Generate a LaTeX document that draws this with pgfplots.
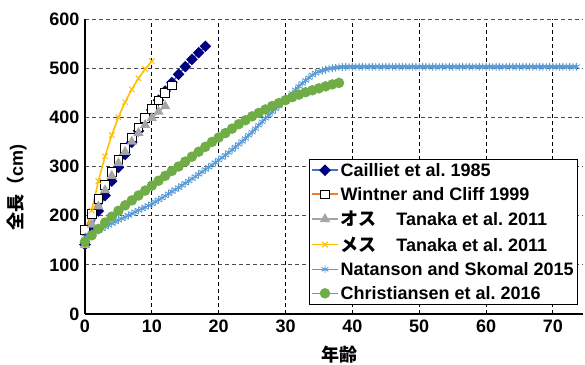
\documentclass[border=0pt]{standalone}
\usepackage{fontspec}
\setmainfont{Liberation Sans}
\newfontfamily\cjk{Noto Sans CJK JP}
\usepackage{pgfplots}
\pgfplotsset{compat=1.18}
\definecolor{cNavy}{RGB}{0,0,128}
\definecolor{cBlue}{RGB}{68,114,196}
\definecolor{cOrange}{RGB}{237,125,49}
\definecolor{cGray}{RGB}{165,165,165}
\definecolor{cYellow}{RGB}{255,192,0}
\definecolor{cSky}{RGB}{91,155,213}
\definecolor{cGreen}{RGB}{112,173,71}
\newcommand\fs{\fontsize{18bp}{20bp}\selectfont\bfseries\frenchspacing}
\begin{document}
\begin{tikzpicture}
\begin{axis}[
  scale only axis, width=498bp, height=295bp,
  xmin=0, xmax=74.5, ymin=0, ymax=600,
  xtick={0,10,...,70}, ytick={0,100,...,600},
  axis x line=bottom, axis y line=left,
  axis line style={-, line width=1.2bp, black},
  tick style={draw=none},
  grid=major,
  x grid style={dash pattern=on 4bp off 3bp, black, line width=0.9bp},
  y grid style={dash pattern=on 4bp off 3bp, black!70, line width=0.9bp},
  clip=false,
  /pgf/number format/assume math mode=true,
  ticklabel style={font=\fs},
  xlabel={\cjk\fs 年齢},
  ylabel={{\cjk\fs 全長（}{\fs cm)}},
  xlabel style={at={(axis description cs:0.512,-0.139)}, anchor=center},
  ylabel style={at={(axis description cs:-0.1365,0.43)}, anchor=center},
  legend style={at={(axis description cs:0.99,0.0305)}, anchor=south east,
    font=\fs, draw=black, line width=0.8bp, fill=white, row sep=5.5bp,
    inner xsep=2bp, inner ysep=2bp},
  legend cell align=left,
  legend image code/.code={\draw[mark repeat=2,mark phase=2] plot coordinates {(0cm,0cm) (0.45cm,0cm) (0.9cm,0cm)};},
]
\coordinate (bl) at (rel axis cs:0,0);
\coordinate (tr) at (rel axis cs:1,1);
% Cailliet et al. 1985
\addplot[cBlue, line width=1.6bp, mark=square*, mark size=3.3bp,
  mark options={rotate=45, fill=cNavy, draw=cNavy, solid}] coordinates {
(0,141.4)(1,176.5)(2,209.5)(3,240.8)(4,270.2)(5,298.0)(6,324.3)(7,349.0)(8,372.4)(9,394.5)
(10,415.3)(11,434.9)(12,453.4)(13,470.9)(14,487.4)(15,503.0)(16,517.7)(17,531.5)(18,544.6)};
\addlegendentry{Cailliet et al. 1985}
% Wintner and Cliff 1999
\addplot[cOrange, line width=1.6bp, mark=square*, mark size=4.3bp,
  mark options={fill=white, draw=black, line width=0.9bp}] coordinates {
(0,170.7)(1,203.2)(2,233.6)(3,262.1)(4,288.8)(5,313.8)(6,337.3)(7,359.2)(8,379.8)(9,399.1)
(10,417.2)(11,434.1)(12,450.0)(13,464.9)};
\addlegendentry{Wintner and Cliff 1999}
% Tanaka male
\addplot[cGray, line width=1.6bp, mark=triangle*, mark size=4.3bp,
  mark options={fill=cGray, draw=cGray}] coordinates {
(0,140)(1,181.7)(2,218.8)(3,251.7)(4,280.9)(5,306.8)(6,329.8)(7,350.3)(8,368.4)(9,384.5)
(10,398.8)(11,411.5)(12,422.8)};
\addlegendentry{{\cjk オス}\hspace{1.1em}Tanaka et al. 2011}
% Tanaka female
\addplot[cYellow, line width=1.6bp, mark=x, mark size=3.9bp,
  mark options={draw=cYellow, line width=1bp}] coordinates {
(0,140)(1,210.4)(2,270.1)(3,320.8)(4,363.7)(5,400.1)(6,431.0)(7,457.1)(8,479.3)(9,498.1)(10,514.1)};
\addlegendentry{{\cjk メス}\hspace{1.1em}Tanaka et al. 2011}
% Natanson and Skomal 2015
\addplot[cSky, line width=1.6bp, mark=asterisk, mark size=3.9bp,
  mark options={draw=cSky, line width=0.9bp}] coordinates {
(0,157)(0.5,160.5)(1,164)(1.5,167)(2,170)(2.5,173.5)(3,177)(3.5,180.5)(4,184)(4.5,187.5)
(5,191)(5.5,194)(6,197)(6.5,200.5)(7,204)(7.5,207.5)(8,211)(8.5,214)(9,217)(9.5,220.5)
(10,224)(10.5,228)(11,232)(11.5,236)(12,240)(12.5,244.5)(13,249)(13.5,253)(14,257)(14.5,261.5)
(15,266)(15.5,270.5)(16,275)(16.5,279.5)(17,284)(17.5,289)(18,294)(18.5,298.5)(19,303)(19.5,308)
(20,313)(20.5,318)(21,323)(21.5,328.5)(22,334)(22.5,339.5)(23,345)(23.5,351)(24,357)(24.5,363.5)
(25,370)(25.5,377)(26,384)(26.5,391)(27,398)(27.5,404.5)(28,411)(28.5,417)(29,423)(29.5,429)
(30,435)(30.5,442)(31,449)(31.5,456)(32,463)(32.5,469)(33,475)(33.5,480.5)(34,486)(34.5,490)
(35,493)(35.5,495)(36,497)(36.5,499)(37,500)(37.5,501)(38,502)(38.5,502.5)(39,503)(39.5,503)
(40,503)(40.5,503)(41,503)(41.5,503)(42,503)(42.5,503)(43,503)(43.5,503)(44,503)(44.5,503)
(45,503)(45.5,503)(46,503)(46.5,503)(47,503)(47.5,503)(48,503)(48.5,503)(49,503)(49.5,503)
(50,503)(50.5,503)(51,503)(51.5,503)(52,503)(52.5,503)(53,503)(53.5,503)(54,503)(54.5,503)
(55,503)(55.5,503)(56,503)(56.5,503)(57,503)(57.5,503)(58,503)(58.5,503)(59,503)(59.5,503)
(60,503)(60.5,503)(61,503)(61.5,503)(62,503)(62.5,503)(63,503)(63.5,503)(64,503)(64.5,503)
(65,503)(65.5,503)(66,503)(66.5,503)(67,503)(67.5,503)(68,503)(68.5,503)(69,503)(69.5,503)
(70,503)(70.5,503)(71,503)(71.5,503)(72,503)(72.5,503)(73,503)(73.5,503)};
\addlegendentry{Natanson and Skomal 2015}
% Christiansen et al. 2016
\addplot[cGreen, line width=1.6bp, mark=*, mark size=4.4bp,
  mark options={fill=cGreen, draw=cGreen}] coordinates {
(0,147)(1,160)(2,173)(3,186)(4,198)(5,210)(6,221)(7,231)(8,241)(9,251)
(10,261)(11,271)(12,281)(13,291)(14,300)(15,310)(16,320)(17,330)(18,340)(19,350)
(20,359)(21,368)(22,377)(23,386)(24,394)(25,402)(26,409)(27,416)(28,423)(29,429)
(30,435)(31,441)(32,446)(33,451)(34,455)(35,459)(36,463)(37,467)(38,470)};
\addlegendentry{Christiansen et al. 2016}
\end{axis}
\pgfresetboundingbox
\path ([shift={(-85bp,-51bp)}]bl) rectangle ([shift={(2bp,19bp)}]tr);
\end{tikzpicture}
\end{document}
